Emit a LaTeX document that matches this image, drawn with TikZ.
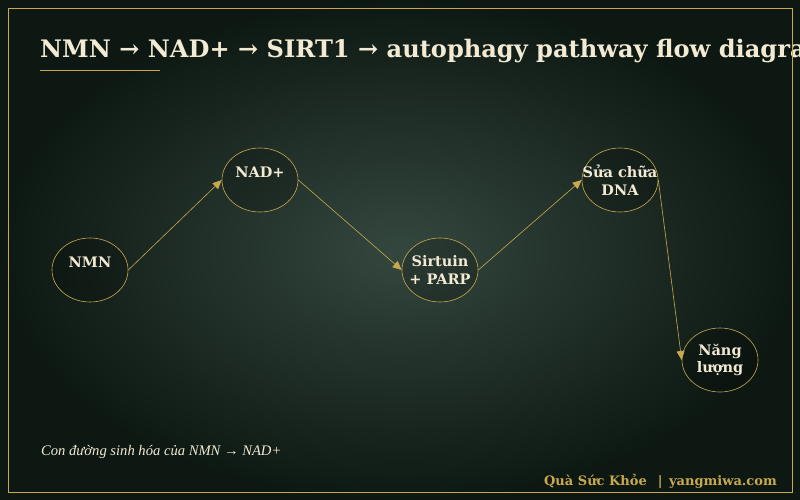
\documentclass[tikz,border=0pt]{standalone}
\usepackage{fontspec}
\setmainfont{DejaVu Serif}
\newfontfamily\captionfont{Liberation Serif}
\usetikzlibrary{arrows.meta,shapes.geometric}
\definecolor{gold}{HTML}{C9A94E}
\definecolor{cream}{HTML}{F2EAD2}
\definecolor{bgdark}{HTML}{0D1812}
\definecolor{bglight}{HTML}{34473E}
\tikzset{
  bubble/.style={draw=gold, line width=0.6pt, ellipse, minimum width=76pt,
    minimum height=64pt, inner sep=0pt, fill=black, fill opacity=0.18},
  bubbletext/.style={text=cream, align=center, font=\bfseries\fontsize{14.5}{17.5}\selectfont},
  flow/.style={draw=gold, line width=0.6pt, -{Triangle[length=9pt,width=8pt]}},
}
\begin{document}
\begin{tikzpicture}[x=1pt,y=-1pt]
    %% Background
    \useasboundingbox (0,0) rectangle (800,500);
    \shade[inner color=bglight, outer color=bgdark] (0,0) rectangle (800,500);
    %% Title
    \node[anchor=base west, inner sep=0pt, text=cream,
        font=\bfseries\fontsize{24.1}{28}\selectfont] (title) at (40,58)
        {NMN → NAD+ → SIRT1 → autophagy pathway flow diagram};
    \draw[gold, line width=0.8pt] (40,70) -- (160,70);
    %% Frame
    \draw[gold, line width=0.8pt] (8,8) rectangle (792,492);
    %% Steps
    \node[bubble] (nmn) at (90,270) {};
    \node[bubble] (nad) at (260,180) {};
    \node[bubble] (sirt) at (440,270) {};
    \node[bubble] (dna) at (620,180) {};
    \node[bubble] (energy) at (720,360) {};
    \node[bubbletext] (nmn-t) at ([yshift=8pt]nmn.center) {NMN};
    \node[bubbletext] (nad-t) at ([yshift=8pt]nad.center) {NAD+};
    \node[bubbletext] (sirt-t) at (sirt.center) {Sirtuin\\+ PARP};
    \node[bubbletext] (dna-t) at (dna.center) {Sửa chữa\\DNA};
    \node[bubbletext] (energy-t) at (energy.center) {Năng\\lượng};
    %% Flow
    \draw[flow] (nmn.east) -- (nad.west);
    \draw[flow] (nad.east) -- (sirt.west);
    \draw[flow] (sirt.east) -- (dna.west);
    \draw[flow] (dna.east) -- (energy.west);
    %% Caption and footer
    \node[anchor=base west, inner sep=0pt, text=cream,
        font=\captionfont\itshape\fontsize{14.6}{17}\selectfont] (caption) at (41,455)
        {Con đường sinh hóa của NMN → NAD+};
    \node[anchor=base east, inner sep=0pt, text=gold,
        font=\bfseries\fontsize{13}{16}\selectfont] (footer) at (777,485)
        {Quà Sức Khỏe \enspace|\enspace yangmiwa.com};
\end{tikzpicture}
\end{document}
